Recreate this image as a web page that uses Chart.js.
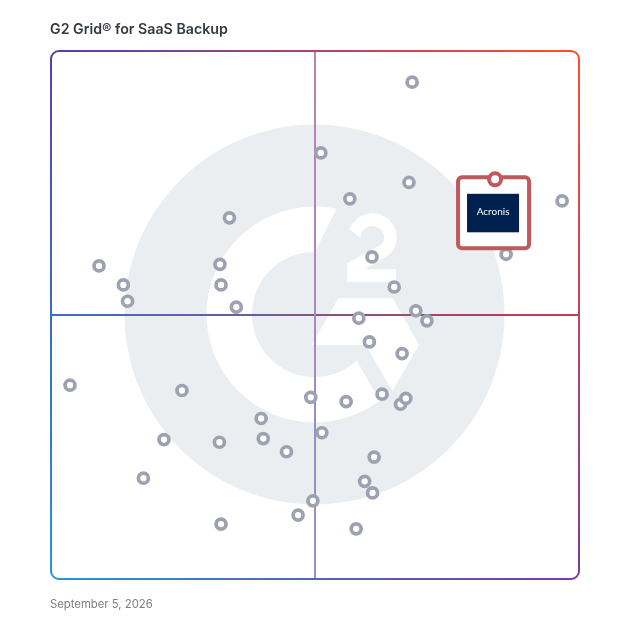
<!DOCTYPE html>
<html>
<head>
<meta charset="utf-8">
<title>G2 Grid for SaaS Backup</title>
<script src="https://cdn.jsdelivr.net/npm/chart.js@4"></script>
<style>
  html, body { margin: 0; padding: 0; background: #fff; }
  canvas { display: block; }
</style>
</head>
<body>
<canvas id="grid" width="628" height="628"></canvas>
<script>
var titleText = "G2 Grid® for SaaS Backup";
var dateText = "September 5, 2026";

// satisfaction (x) and market presence (y)
var peerX = [68.4, 51.1, 67.8, 56.6, 96.8, 33.8, 60.8, 86.2, 9.1, 32.0, 13.7, 32.2, 65.0, 14.5, 35.1, 69.1, 71.2, 58.3, 60.3, 66.5, 3.6, 24.8, 49.2, 55.9, 62.7, 66.2, 67.2, 39.8, 51.3, 21.4, 31.9, 40.2, 44.6, 61.2, 17.5, 59.4, 60.9, 49.6, 46.8, 32.2, 57.8];
var peerY = [94.1, 80.7, 75.1, 72.0, 71.6, 68.4, 61.0, 61.5, 59.3, 59.6, 55.7, 55.7, 55.3, 52.6, 51.5, 50.8, 48.9, 49.4, 44.9, 42.7, 36.7, 35.7, 34.4, 33.6, 35.0, 33.1, 34.2, 30.4, 27.7, 26.4, 25.9, 26.6, 24.1, 23.1, 19.1, 18.5, 16.3, 14.8, 12.1, 10.4, 9.5];
var vendorName = "Acronis";
var vendorX = [84.1];
var vendorY = [75.7];

function toPoints(xs, ys) {

  var points = [];

  for (var i = 0; i < xs.length; i++) {

    points.push({x: xs[i], y: ys[i]});
  }
  return points;
}

function linear(ctx, x0, y0, x1, y1, from, to) {

  var g = ctx.createLinearGradient(x0, y0, x1, y1);
  g.addColorStop(0, from);
  g.addColorStop(1, to);
  return g;
}

// grey G2 roundel behind the points
function drawLogo(ctx, area) {

  var cx = area.left + (area.right - area.left) / 2 - 0.5;
  var cy = area.top + (area.bottom - area.top) / 2 - 0.5;
  var big = 190;
  var outer = 108;
  var inner = 62.6;

  ctx.fillStyle = "#ebeef1";
  ctx.beginPath();
  ctx.arc(cx, cy, big, 0, Math.PI * 2);
  ctx.fill();

  // the C ring, cut open on the right
  var startOut = Math.atan2(207.3 - 314.5, 336.7 - 314.5);
  var startIn = Math.atan2(251.9 - 314.5, 315 - 314.5);
  var endOut = Math.atan2(400.5 - 314.5, 379.7 - 314.5);
  var endIn = Math.atan2(360.7 - 314.5, 356.7 - 314.5);

  ctx.fillStyle = "#fff";
  ctx.beginPath();
  ctx.arc(cx, cy, outer, startOut, endOut, true);
  ctx.arc(cx, cy, inner, endIn, startIn, false);
  ctx.closePath();
  ctx.fill();

  // the arrow piece
  ctx.beginPath();
  ctx.moveTo(cx + 23.8, cy - 16.2);
  ctx.lineTo(cx + 78.2, cy - 16.2);
  ctx.lineTo(cx + 104.5, cy + 30.5);
  ctx.lineTo(cx + 77.8, cy + 76.5);
  ctx.lineTo(cx + 51.2, cy + 30.5);
  ctx.lineTo(cx - 2.8, cy + 30.5);
  ctx.closePath();
  ctx.fill();

  // the small 2
  var tx = cx + 57.8;
  var ty = cy - 76.8;
  ctx.beginPath();
  ctx.arc(tx, ty, 24.4, Math.atan2(-28, -75), Math.PI * 0.22, false);
  ctx.lineTo(tx - 7.3, ty + 31.6);
  ctx.lineTo(tx + 23.7, ty + 31.6);
  ctx.lineTo(tx + 23.7, ty + 44);
  ctx.lineTo(tx - 25, ty + 44);
  ctx.lineTo(tx - 25, ty + 25.6);
  ctx.lineTo(tx + 8.5, ty + 7);
  ctx.arc(tx, ty, 11.7, Math.PI * 0.2, Math.PI, true);
  ctx.closePath();
  ctx.fill();
}

// divider lines and the gradient frame
function drawFrame(chart, ctx, area) {

  var l = area.left;
  var r = area.right;
  var t = area.top;
  var b = area.bottom;
  var midX = chart.scales.x.getPixelForValue(50);
  var midY = chart.scales.y.getPixelForValue(50);
  var rad = 8;

  ctx.lineWidth = 2;
  ctx.strokeStyle = linear(ctx, l, 0, r, 0, "#3a6fc4", "#c63a4c");
  ctx.beginPath();
  ctx.moveTo(l, midY);
  ctx.lineTo(r, midY);
  ctx.stroke();

  ctx.strokeStyle = linear(ctx, 0, t, 0, b, "#bf7fae", "#8f90d2");
  ctx.beginPath();
  ctx.moveTo(midX, t);
  ctx.lineTo(midX, b);
  ctx.stroke();

  var topLeft = "#5340b0";
  var topRight = "#ff4f2c";
  var botLeft = "#2a93d4";
  var botRight = "#7c3a9c";

  ctx.strokeStyle = linear(ctx, l, 0, r, 0, topLeft, topRight);
  ctx.beginPath();
  ctx.moveTo(l, t + rad);
  ctx.arcTo(l, t, l + rad, t, rad);
  ctx.lineTo(r - rad, t);
  ctx.stroke();

  ctx.strokeStyle = linear(ctx, 0, t, 0, b, topRight, botRight);
  ctx.beginPath();
  ctx.moveTo(r - rad, t);
  ctx.arcTo(r, t, r, t + rad, rad);
  ctx.lineTo(r, b - rad);
  ctx.stroke();

  ctx.strokeStyle = linear(ctx, l, 0, r, 0, botLeft, botRight);
  ctx.beginPath();
  ctx.moveTo(l + rad, b);
  ctx.lineTo(r - rad, b);
  ctx.arcTo(r, b, r, b - rad, rad);
  ctx.stroke();

  ctx.strokeStyle = linear(ctx, 0, t, 0, b, topLeft, botLeft);
  ctx.beginPath();
  ctx.moveTo(l, t + rad);
  ctx.lineTo(l, b - rad);
  ctx.arcTo(l, b, l + rad, b, rad);
  ctx.stroke();
}

// white box with the vendor badge, hung from the vendor's point
function drawCallout(chart, ctx) {

  var point = chart.getDatasetMeta(0).data[0];
  var x = point.x;
  var y = point.y;

  ctx.save();
  ctx.fillStyle = "#fff";
  ctx.strokeStyle = "#c0595c";
  ctx.lineWidth = 4;
  ctx.beginPath();
  ctx.roundRect(x - 37, y - 2, 71, 71, 4);
  ctx.fill();
  ctx.stroke();

  ctx.fillStyle = "#00204f";
  ctx.fillRect(x - 28, y + 14.5, 52, 38.5);

  ctx.fillStyle = "#fff";
  ctx.font = "400 10px Lato, sans-serif";
  ctx.textAlign = "center";
  ctx.textBaseline = "middle";
  ctx.fillText(vendorName, x - 2, y + 32.5);
  ctx.restore();
}

var gridPlugin = {

  id: "g2Grid",
  beforeDatasetsDraw: function(chart) {

    var ctx = chart.ctx;

    ctx.save();
    drawLogo(ctx, chart.chartArea);
    drawFrame(chart, ctx, chart.chartArea);
    ctx.restore();
  },
  afterDatasetDraw: function(chart, args) {

    // datasets draw last to first, so the vendor's point lands on the box
    if (args.index === 1) {

      drawCallout(chart, chart.ctx);
    }
  }
};

function drawChart() {

  var ctx = document.getElementById("grid").getContext("2d");
  var chart = new Chart(ctx, {

    type: "scatter",
    plugins: [gridPlugin],

    data: {
      datasets: [{
        label: vendorName,
        data: toPoints(vendorX, vendorY),
        pointRadius: 6,
        pointBorderWidth: 4,
        pointBackgroundColor: "#fff",
        pointBorderColor: "#c0595c"
      }, {
        label: "Peers",
        data: toPoints(peerX, peerY),
        pointRadius: 5,
        pointBorderWidth: 3.7,
        pointBackgroundColor: "#fff",
        pointBorderColor: "#9da2b2"
      }]
    },

    options: {
      responsive: false,
      animation: false,
      layout: {
        padding: {left: 50, right: 49, top: 0, bottom: 0}
      },
      scales: {
        x: {min: 0, max: 100, display: false},
        y: {
          min: 0,
          max: 100,
          ticks: {display: false},
          grid: {display: false},
          border: {display: false},
          afterFit: function(scale) {
            scale.width = 1;
          }
        }
      },
      plugins: {
        legend: {display: false},
        tooltip: {enabled: false},
        title: {
          display: true,
          text: titleText,
          align: "start",
          color: "#333a40",
          font: {family: "Inter", size: 14.2, weight: "600", lineHeight: 1.2},
          padding: {top: 21, bottom: 12.96}
        },
        subtitle: {
          display: true,
          position: "bottom",
          text: dateText,
          align: "start",
          color: "#7c7f84",
          font: {family: "Inter", size: 11.3, weight: "400", lineHeight: 1.2},
          padding: {top: 19, bottom: 16.44}
        }
      }
    }
  });
}

drawChart();
</script>
</body>
</html>
